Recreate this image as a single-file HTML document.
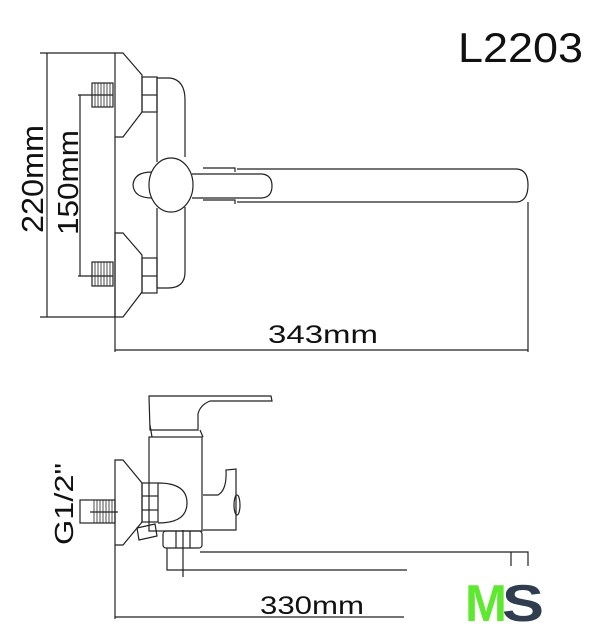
<!DOCTYPE html>
<html><head><style>
html,body{margin:0;padding:0;background:#fff;}
svg{display:block;}
text{font-family:"Liberation Sans",sans-serif;fill:#111;}
</style></head><body>
<svg width="605" height="640" viewBox="0 0 605 640" xmlns="http://www.w3.org/2000/svg">
<g fill="none" stroke="#222" stroke-width="1.2">
<!-- TOP VIEW -->
<!-- dimension 220 -->
<line x1="40" y1="53" x2="115" y2="53"/>
<line x1="40" y1="317" x2="115" y2="317"/>
<line x1="47" y1="53" x2="47" y2="317"/>
<!-- dimension 150 -->
<line x1="78" y1="95" x2="113" y2="95"/>
<line x1="78" y1="276" x2="113" y2="276"/>
<line x1="80" y1="95" x2="80" y2="276"/>
<!-- escutcheons -->
<path d="M115,53 L123,53 L142,75 L142,112 L123,137 L115,137 Z"/>
<path d="M115,233 L123,233 L142,255 L142,292 L123,317 L115,317 Z"/>
<!-- threads -->
<rect x="92" y="83" width="21" height="24"/>
<rect x="92" y="262" width="21" height="24"/>
<g stroke-width="0.8">
<path d="M95,83V107M98,83V107M101,83V107M104,83V107M107,83V107M110,83V107"/>
<path d="M95,262V286M98,262V286M101,262V286M104,262V286M107,262V286M110,262V286"/>
</g>
<!-- nuts -->
<rect x="142" y="77" width="15" height="35"/>
<line x1="142" y1="95" x2="157" y2="95"/>
<rect x="142" y="258" width="15" height="35"/>
<line x1="142" y1="276" x2="157" y2="276"/>
<!-- body -->
<path d="M157,78 L170,78 Q185,80 185,100 L185,157"/>
<path d="M185,207 L185,272 Q185,288 168,288 L157,288"/>
<line x1="157" y1="78" x2="157" y2="162"/>
<line x1="157" y1="208" x2="157" y2="288"/>
<!-- spout -->
<path d="M237,169 L517,169 Q528,170 528,185 Q528,201 517,202 L237,202"/>
<path d="M203,168 L235,168 L235,172 M203,200 L235,200 L235,204"/>
<!-- lever -->
<path d="M192,174 L262,174 Q272,175 272,186 Q272,197 262,198 L192,198"/>
<!-- knob -->
<path d="M152,172 Q134,172 133,185 Q134,198 152,198"/>
<ellipse cx="171" cy="185" rx="22" ry="27" fill="#fff"/>
<!-- 343 dim -->
<line x1="115" y1="137" x2="115" y2="352"/>
<line x1="528" y1="202" x2="528" y2="352"/>
<line x1="115" y1="350" x2="528" y2="350"/>

<!-- BOTTOM VIEW -->
<!-- lever top -->
<path d="M149,396 L271,396 L272,401 L210,401 Q200,405 198,414 L198,430 L150,430 L149,396 Z"/>
<path d="M200,430 L203,437"/>
<path d="M150,425 L152,437"/>
<!-- body -->
<rect x="149" y="437" width="53" height="94"/>
<!-- escutcheon -->
<path d="M115,460 L123,460 L142,483 L142,522 L123,545 L115,545 Z"/>
<!-- thread -->
<rect x="80" y="500" width="35" height="23"/>
<g stroke-width="0.8"><path d="M94,500V523M97,500V523M100,500V523M103,500V523M106,500V523M109,500V523M112,500V523"/></g>
<line x1="90" y1="512" x2="118" y2="512"/>
<!-- nut -->
<rect x="142" y="483" width="16" height="39"/>
<line x1="142" y1="496" x2="158" y2="496"/>
<line x1="142" y1="510" x2="158" y2="510"/>
<!-- small angled pipe -->
<path d="M137,528 L155,524 L157,536 L139,540 Z"/>
<!-- dome -->
<path d="M158,483 Q187,483 187,503 Q187,523 158,523"/>
<!-- diverter -->
<path d="M203,495 L218,495 Q227,490 226,470 L236,469 L236,530 L203,530"/>
<ellipse cx="237" cy="505" rx="3" ry="10"/>
<!-- bottom nut -->
<rect x="163" y="531" width="39" height="17" rx="3"/>
<line x1="176" y1="531" x2="176" y2="548"/>
<line x1="190" y1="531" x2="190" y2="548"/>
<!-- spout -->
<path d="M167,548 L167,570 L407,570"/>
<path d="M200,552 L528,552 L528,566"/>
<line x1="511" y1="552" x2="511" y2="566"/>
<line x1="183" y1="530" x2="183" y2="577"/>
<!-- 330 dim -->
<line x1="115" y1="545" x2="115" y2="619"/>
<line x1="115" y1="617" x2="404" y2="617"/>
</g>
<text x="458" y="62" font-size="42" textLength="125" lengthAdjust="spacingAndGlyphs">L2203</text>
<text x="268" y="343" font-size="25" textLength="110" lengthAdjust="spacingAndGlyphs">343mm</text>
<text x="260" y="614" font-size="25" textLength="104" lengthAdjust="spacingAndGlyphs">330mm</text>
<text transform="translate(43,233) rotate(-90)" font-size="31" textLength="108" lengthAdjust="spacingAndGlyphs">220mm</text>
<text transform="translate(78,235) rotate(-90)" font-size="29" textLength="105" lengthAdjust="spacingAndGlyphs">150mm</text>
<text transform="translate(73,545) rotate(-90)" font-size="26" textLength="82" lengthAdjust="spacingAndGlyphs">G1/2"</text>
<text x="465" y="621" font-size="52" font-weight="bold" style="fill:#5ee830" textLength="42" lengthAdjust="spacingAndGlyphs">M</text>
<text x="502" y="621" font-size="52" font-weight="bold" style="fill:#2f3d4f" textLength="42" lengthAdjust="spacingAndGlyphs">S</text>
</svg>
</body></html>
